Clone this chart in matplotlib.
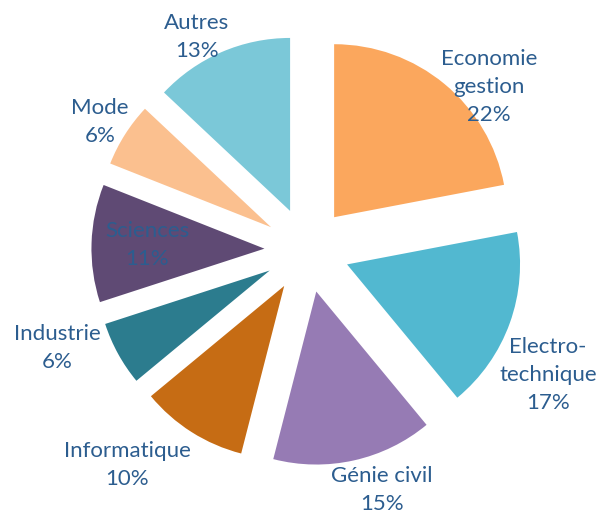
import matplotlib.pyplot as plt

labels = ["Economie\ngestion", "Electro-\ntechnique", "Génie civil", "Informatique",
          "Industrie", "Sciences", "Mode", "Autres"]
shares = [22, 17, 15, 10, 6, 11, 6, 13]
colors = ["#FBA75D", "#52B8D0", "#967BB4", "#C66C14",
          "#2C7C8E", "#5F4A74", "#FBC08F", "#7BC8D8"]

# label placement (in pie radius units, relative to centre)
label_pos = [(1.052, 0.942), (1.393, -0.723), (0.434, -1.387), (-1.040, -1.243),
             (-1.445, -0.566), (-0.925, 0.029), (-1.197, 0.740), (-0.636, 1.231)]

fig = plt.figure(figsize=(5.98, 5.15), dpi=100)
ax = fig.add_axes([0, 0, 1, 1])

r = 173
ax.pie(shares, colors=colors, startangle=90, counterclock=False,
       explode=[0.246] * len(shares), radius=1,
       wedgeprops=dict(linewidth=0))

for lab, val, (x, y) in zip(labels, shares, label_pos):
    ax.text(x, y, f"{lab}\n{val}%", ha="center", va="center",
            fontsize=16, family="Lato", color="#2C5D8F", linespacing=1.5)

ax.set_xlim(-307 / r, (598 - 307) / r)
ax.set_ylim(-265 / r, 250 / r)
ax.set_aspect("auto")
ax.axis("off")

fig.savefig("out.png", dpi=100)
